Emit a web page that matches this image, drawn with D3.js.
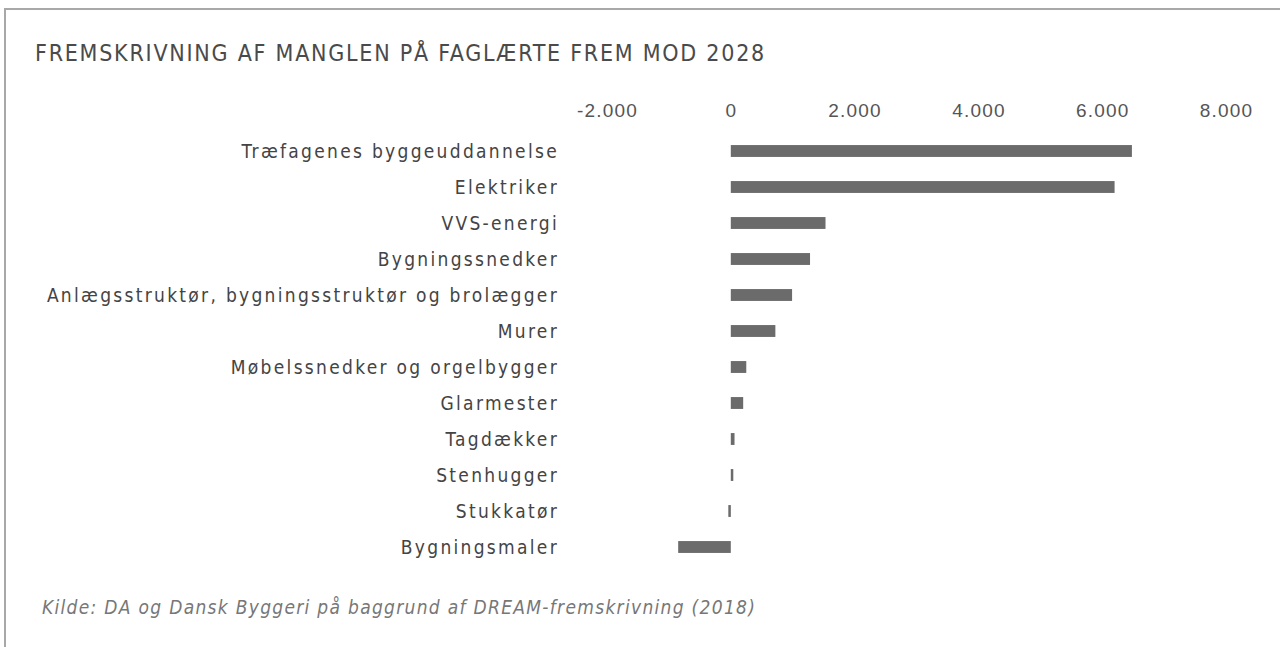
<!DOCTYPE html>
<html lang="da">
<head>
<meta charset="utf-8">
<title>Fremskrivning af manglen på faglærte</title>
<script src="https://cdn.jsdelivr.net/npm/d3@7"></script>
<style>
  body { margin: 0; background: #fff; }
  svg { display: block; font-family: "DejaVu Sans Condensed", "DejaVu Sans", sans-serif; }
  .frame { fill: none; stroke: #a8a8a8; stroke-width: 2px; }
  .title { fill: #4a4a4a; font-size: 23px; letter-spacing: 1.75px; }
  .axis text { fill: #555; font-size: 19px; letter-spacing: 1.2px; }
  .label { fill: #444; font-size: 19px; letter-spacing: 2.3px; }
  .bar { fill: #6b6b6b; }
  .source { fill: #777; font-size: 19px; font-style: italic; letter-spacing: 1.3px; }
</style>
</head>
<body>
<div id="chart"></div>
<script>
var categories = [
  "Træfagenes byggeuddannelse",
  "Elektriker",
  "VVS-energi",
  "Bygningssnedker",
  "Anlægsstruktør, bygningsstruktør og brolægger",
  "Murer",
  "Møbelssnedker og orgelbygger",
  "Glarmester",
  "Tagdækker",
  "Stenhugger",
  "Stukkatør",
  "Bygningsmaler"
];
var values = [6480, 6200, 1530, 1280, 990, 720, 250, 200, 60, 30, -40, -850];
var tickValues = [-2000, 0, 2000, 4000, 6000, 8000];
var titleText = "FREMSKRIVNING AF MANGLEN PÅ FAGLÆRTE FREM MOD 2028";
var sourceText = "Kilde: DA og Dansk Byggeri på baggrund af DREAM-fremskrivning (2018)";

var width = 1280, height = 647;

var svg = d3.select("#chart").append("svg")
    .attr("width", width)
    .attr("height", height);

// ramme (kun venstre og top)
svg.append("path")
    .attr("class", "frame")
    .attr("d", "M5,647 V9 H1280");

svg.append("text")
    .attr("class", "title")
    .attr("x", 35)
    .attr("y", 61)
    .text(titleText);

var x = d3.scaleLinear()
    .domain([-2000, 8000])
    .range([607, 1226]);

var y = d3.scaleBand()
    .domain(categories)
    .range([133, 565])
    .paddingInner(0.67)
    .paddingOuter(0.335);

var xAxis = d3.axisTop(x)
    .tickValues(tickValues)
    .tickSize(0)
    .tickPadding(0)
    .tickFormat(function(d) { return d3.format(",")(d).replace(/,/g, ".").replace("−", "-"); });

svg.append("g")
    .attr("class", "axis")
    .attr("transform", "translate(0,117)")
    .call(xAxis)
    .call(function(g) { g.select(".domain").remove(); });

svg.selectAll(".bar")
    .data(values)
  .enter().append("rect")
    .attr("class", "bar")
    .attr("x", function(d) { return x(Math.min(0, d)); })
    .attr("y", function(d, i) { return y(categories[i]); })
    .attr("width", function(d) { return Math.max(2.5, Math.abs(x(d) - x(0))); })
    .attr("height", y.bandwidth());

svg.selectAll(".label")
    .data(categories)
  .enter().append("text")
    .attr("class", "label")
    .attr("x", 559)
    .attr("y", function(d) { return y(d) + y.bandwidth() / 2; })
    .attr("dy", "0.35em")
    .attr("text-anchor", "end")
    .text(function(d) { return d; });

svg.append("text")
    .attr("class", "source")
    .attr("x", 42)
    .attr("y", 614)
    .text(sourceText);
</script>
</body>
</html>
